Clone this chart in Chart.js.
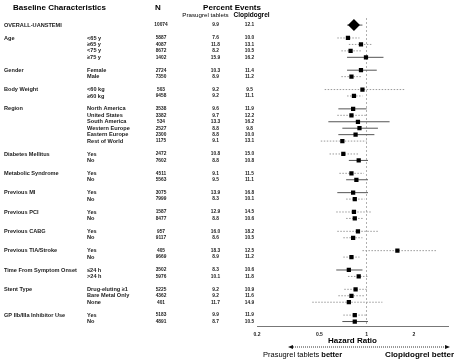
<!DOCTYPE html>
<html>
<head>
<meta charset="utf-8">
<script src="https://cdn.jsdelivr.net/npm/chart.js@4.4.0/dist/chart.umd.min.js"></script>
<style>
  html, body { margin: 0; padding: 0; background: #fff; }
  #wrap { width: 454px; height: 361px; }
</style>
</head>
<body>
<div id="wrap"><canvas id="forestChart"></canvas></div>
<script>
// one entry per row of the table, top to bottom
var groupLabels = ['OVERALL-UANSTEMI', 'Age', '', '', '', 'Gender', '', 'Body Weight', '',
  'Region', '', '', '', '', '', 'Diabetes Mellitus', '', 'Metabolic Syndrome', '',
  'Previous MI', '', 'Previous PCI', '', 'Previous CABG', '', 'Previous TIA/Stroke', '',
  'Time From Symptom Onset', '', 'Stent Type', '', '', 'GP IIb/IIIa Inhibitor Use', ''];
var subLabels = ['', '<65 y', '\u226565 y', '<75 y', '\u226575 y', 'Female', 'Male', '<60 kg', '\u226560 kg',
  'North America', 'United States', 'South America', 'Western Europe', 'Eastern Europe', 'Rest of World',
  'Yes', 'No', 'Yes', 'No', 'Yes', 'No', 'Yes', 'No', 'Yes', 'No', 'Yes', 'No',
  '\u226424 h', '>24 h', 'Drug-eluting \u22651', 'Bare Metal Only', 'None', 'Yes', 'No'];
var nPatients = [10074, 5887, 4087, 8672, 1402, 2724, 7350, 503, 9458, 3538, 3382, 534, 2527, 2300, 1175,
  2472, 7602, 4511, 5563, 3075, 7999, 1587, 8477, 957, 9117, 405, 9669, 3502, 5976, 5225, 4362, 401, 5183, 4891];
var prasugrelPct = [9.9, 7.6, 11.8, 8.2, 15.9, 10.3, 8.9, 9.2, 9.2, 9.6, 9.7, 13.3, 8.8, 8.8, 9.1,
  10.8, 8.8, 9.1, 9.5, 13.9, 8.3, 12.9, 8.8, 16.0, 8.6, 18.3, 8.9, 8.3, 10.1, 9.2, 9.2, 11.7, 9.9, 8.7];
var clopidogrelPct = [12.1, 10.0, 13.1, 10.5, 16.2, 11.4, 11.2, 9.5, 11.1, 11.9, 12.2, 16.2, 9.8, 10.0, 13.1,
  15.0, 10.8, 11.5, 11.1, 16.8, 10.1, 14.5, 10.6, 18.2, 10.5, 12.5, 11.2, 10.6, 11.8, 10.9, 11.6, 14.9, 11.9, 10.5];
var hazardRatio = [0.83, 0.76, 0.92, 0.79, 0.99, 0.92, 0.80, 0.94, 0.83, 0.82, 0.80, 0.88, 0.90, 0.85, 0.70,
  0.71, 0.89, 0.80, 0.86, 0.82, 0.84, 0.83, 0.84, 0.88, 0.82, 1.57, 0.80, 0.77, 0.89, 0.85, 0.80, 0.77, 0.84, 0.84];
var lowerCI = [0.75, 0.65, 0.77, 0.69, 0.75, 0.75, 0.69, 0.54, 0.75, 0.66, 0.65, 0.57, 0.70, 0.66, 0.51,
  0.58, 0.77, 0.67, 0.74, 0.65, 0.74, 0.64, 0.74, 0.65, 0.71, 0.94, 0.71, 0.64, 0.76, 0.72, 0.66, 0.45, 0.71, 0.70];
var upperCI = [0.94, 0.90, 1.09, 0.92, 1.28, 1.16, 0.93, 1.77, 0.94, 1.00, 0.99, 1.40, 1.18, 1.12, 1.00,
  0.89, 1.02, 0.96, 1.02, 1.02, 0.97, 1.08, 0.96, 1.19, 0.94, 2.78, 0.90, 0.94, 1.02, 1.02, 0.96, 1.26, 0.99, 1.02];
var xTicks = [0.2, 0.5, 1, 2];

// which CI lines look solid in the original (the rest are dotted)
var solidCI = [0, 4, 5, 9, 11, 12, 13, 16, 18, 19, 27, 33];

var fontFamily = "'Liberation Sans', Arial, sans-serif";
Chart.defaults.font.family = fontFamily;

// row position: a blank row before every new group
var rowIndex = [];
var k = 0;
for (var i = 0; i < groupLabels.length; i++) {
  if (i > 0) k += (groupLabels[i] !== '') ? 2 : 1;
  rowIndex.push(k);
}

var datasets = [{
  label: 'Hazard ratio',
  data: hazardRatio.map(function (v, i) { return {x: v, y: rowIndex[i]}; }),
  pointStyle: hazardRatio.map(function (v, i) { return i == 0 ? 'rectRot' : 'rect'; }),
  pointRadius: hazardRatio.map(function (v, i) { return i == 0 ? 6 : 3; }),
  backgroundColor: '#000',
  borderColor: '#000',
  borderWidth: 0,
  showLine: false
}];
for (var j = 0; j < hazardRatio.length; j++) {
  var solid = solidCI.indexOf(j) >= 0;
  datasets.push({
    label: 'CI ' + j,
    data: [{x: lowerCI[j], y: rowIndex[j]}, {x: upperCI[j], y: rowIndex[j]}],
    showLine: true,
    borderColor: solid ? '#555' : '#9a9a9a',
    borderWidth: 1,
    borderDash: solid ? [] : [1.5, 1.5],
    pointRadius: 0
  });
}

function font(size, bold) {
  return (bold ? 'bold ' : '') + size + 'px ' + fontFamily;
}

var tablePlugin = {
  id: 'tableText',
  afterDraw: function (chart) {
    var c = chart.ctx;
    var ys = chart.scales.y;
    c.save();
    c.textBaseline = 'middle';
    c.fillStyle = '#000';

    // headers
    c.font = font(8, true);
    c.textAlign = 'left';
    c.fillText('Baseline Characteristics', 13, 7.5);
    c.textAlign = 'center';
    c.fillText('N', 158, 7.5);
    c.fillText('Percent Events', 232, 7.5);
    c.font = font(6.2, false);
    c.fillText('Prasugrel tablets', 205.5, 15.7);
    c.font = font(6.5, true);
    c.fillText('Clopidogrel', 251.5, 15.7);

    // table rows
    c.fillStyle = '#1a1a1a';
    for (var i = 0; i < groupLabels.length; i++) {
      var y = ys.getPixelForValue(rowIndex[i]);
      c.font = font(5.6, true);
      c.textAlign = 'left';
      if (groupLabels[i]) c.fillText(groupLabels[i], 4, y);
      if (subLabels[i]) c.fillText(subLabels[i], 87, y);
      c.font = font(4.8, true);
      c.textAlign = 'center';
      c.fillText(String(nPatients[i]), 161, y);
      c.fillText(prasugrelPct[i].toFixed(1), 215.5, y);
      c.fillText(clopidogrelPct[i].toFixed(1), 249.5, y);
    }

    // double arrow under the axis
    var ay = 347, ax0 = 288, ax1 = 450;
    c.strokeStyle = '#333';
    c.lineWidth = 1;
    c.setLineDash([1, 1]);
    c.beginPath();
    c.moveTo(ax0 + 3, ay);
    c.lineTo(ax1 - 3, ay);
    c.stroke();
    c.setLineDash([]);
    c.fillStyle = '#111';
    c.beginPath();
    c.moveTo(ax0, ay); c.lineTo(ax0 + 5, ay - 2); c.lineTo(ax0 + 5, ay + 2); c.closePath();
    c.fill();
    c.beginPath();
    c.moveTo(ax1, ay); c.lineTo(ax1 - 5, ay - 2); c.lineTo(ax1 - 5, ay + 2); c.closePath();
    c.fill();

    // favour labels
    c.fillStyle = '#000';
    c.textAlign = 'left';
    c.font = font(7.5, false);
    var t1 = 'Prasugrel tablets ';
    c.fillText(t1, 263, 354.5);
    var w1 = c.measureText(t1).width;
    c.font = font(7.5, true);
    c.fillText('better', 263 + w1, 354.5);
    c.textAlign = 'right';
    c.font = font(8, true);
    c.fillText('Clopidogrel better', 454, 354.5);
    c.restore();
  }
};

var ctx = document.getElementById('forestChart').getContext('2d');
var forestChart = new Chart(ctx, {
  type: 'scatter',
  data: { datasets: datasets },
  plugins: [tablePlugin],
  options: {
    responsive: true,
    maintainAspectRatio: false,
    animation: false,
    layout: { padding: { left: 257, right: 5, top: 18, bottom: 14.3 } },
    plugins: { legend: { display: false }, tooltip: { enabled: false } },
    scales: {
      x: {
        type: 'logarithmic',
        min: 0.2,
        max: 3.3,
        afterBuildTicks: function (scale) {
          scale.ticks = xTicks.map(function (v) { return {value: v}; });
        },
        afterFit: function (scale) { scale.height = 20; },
        ticks: {
          autoSkip: false,
          maxRotation: 0,
          padding: 5,
          color: '#222',
          font: { size: 5, weight: 'bold' },
          callback: function (v) { return String(v); }
        },
        grid: {
          drawTicks: false,
          lineWidth: 1,
          color: function (c) { return (c.tick && c.tick.value === 1) ? '#b0b0b0' : 'rgba(0,0,0,0)'; }
        },
        border: { display: true, color: '#777', dash: [2, 2] },
        title: {
          display: true,
          text: 'Hazard Ratio',
          color: '#000',
          font: { size: 8, weight: 'bold' },
          padding: { top: 0, bottom: 1 }
        }
      },
      y: {
        type: 'linear',
        display: false,
        reverse: true,
        min: -1.1,
        max: 46.8
      }
    }
  }
});
</script>
</body>
</html>
